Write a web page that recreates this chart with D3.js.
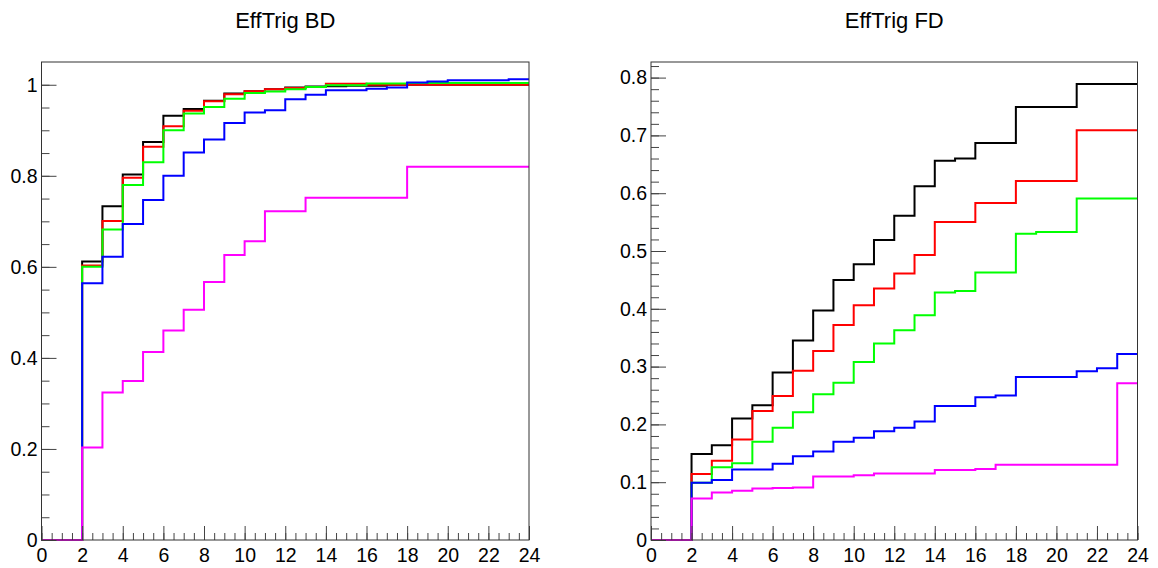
<!DOCTYPE html>
<html>
<head>
<meta charset="utf-8">
<script src="https://cdn.jsdelivr.net/npm/d3@7"></script>
<style>
  body { margin: 0; background: #fff; }
  svg text { font-family: "Liberation Sans", Arial, Helvetica, sans-serif; fill: #000; }
</style>
</head>
<body>
<div id="eff-trig"></div>
<script>
// bin lower edges 0..23, each bin is 1 wide
const binEdges = d3.range(0, 24);

// EffTrig BD
const blackBD   = [0, 0, 0.612, 0.733, 0.803, 0.874, 0.932, 0.947, 0.965, 0.981, 0.986, 0.990, 0.994, 0.996, 0.997, 0.998, 0.998, 1.000, 1.000, 1.000, 1.000, 1.000, 1.000, 1.000];
const redBD     = [0, 0, 0.603, 0.701, 0.796, 0.864, 0.909, 0.943, 0.964, 0.979, 0.986, 0.990, 0.993, 0.995, 1.002, 1.002, 1.000, 1.000, 1.000, 1.000, 1.000, 1.000, 1.000, 1.000];
const greenBD   = [0, 0, 0.600, 0.682, 0.780, 0.830, 0.900, 0.937, 0.951, 0.969, 0.982, 0.985, 0.990, 0.995, 0.999, 0.999, 1.003, 1.003, 1.004, 1.004, 1.004, 1.004, 1.004, 1.004];
const blueBD    = [0, 0, 0.564, 0.622, 0.694, 0.747, 0.800, 0.851, 0.880, 0.916, 0.939, 0.944, 0.968, 0.978, 0.988, 0.988, 0.991, 0.994, 1.005, 1.007, 1.010, 1.010, 1.010, 1.012];
const magentaBD = [0, 0, 0.203, 0.324, 0.349, 0.413, 0.460, 0.506, 0.567, 0.626, 0.656, 0.722, 0.722, 0.752, 0.752, 0.752, 0.752, 0.752, 0.820, 0.820, 0.820, 0.820, 0.820, 0.820];

// EffTrig FD
const blackFD   = [0, 0, 0.149, 0.164, 0.210, 0.233, 0.290, 0.345, 0.397, 0.450, 0.477, 0.519, 0.561, 0.612, 0.656, 0.660, 0.687, 0.687, 0.749, 0.749, 0.749, 0.789, 0.789, 0.789];
const redFD     = [0, 0, 0.114, 0.137, 0.174, 0.223, 0.249, 0.293, 0.327, 0.372, 0.406, 0.435, 0.461, 0.493, 0.550, 0.550, 0.583, 0.583, 0.621, 0.621, 0.621, 0.709, 0.709, 0.709];
const greenFD   = [0, 0, 0.099, 0.126, 0.133, 0.170, 0.194, 0.221, 0.252, 0.272, 0.308, 0.340, 0.363, 0.389, 0.428, 0.431, 0.463, 0.463, 0.530, 0.533, 0.533, 0.591, 0.591, 0.591];
const blueFD    = [0, 0, 0.099, 0.104, 0.122, 0.122, 0.132, 0.145, 0.153, 0.170, 0.177, 0.188, 0.194, 0.205, 0.232, 0.232, 0.247, 0.250, 0.282, 0.282, 0.282, 0.292, 0.297, 0.322];
const magentaFD = [0, 0, 0.072, 0.082, 0.085, 0.089, 0.090, 0.091, 0.110, 0.110, 0.112, 0.115, 0.115, 0.115, 0.121, 0.121, 0.123, 0.130, 0.130, 0.130, 0.130, 0.130, 0.130, 0.271];

const seriesColors = ['#000000', '#ff0000', '#00ff00', '#0000ff', '#ff00ff'];

const xTicks = d3.range(0, 25, 2);
const xMinorTicks = d3.range(0, 24.01, 0.5);
const yTicksBD = [0, 0.2, 0.4, 0.6, 0.8, 1];
const yMinorTicksBD = d3.range(0, 21).map(i => i * 0.05);
const yTicksFD = [0, 0.1, 0.2, 0.3, 0.4, 0.5, 0.6, 0.7, 0.8];
const yMinorTicksFD = d3.range(0, 42).map(i => i * 0.02);

const svg = d3.select('#eff-trig')
  .append('svg')
    .attr('width', 1158)
    .attr('height', 568);

// Draw one pad: frame, axes, step histograms
function drawPad(title, left, right, yMax, yTicks, yMinor, series) {
  const top = 62, bottom = 540;

  let x_scale = d3.scaleLinear().domain([0, 24]).range([left, right]);
  let y_scale = d3.scaleLinear().domain([0, yMax]).range([bottom, top]);

  let pad = svg.append('g');

  // title
  pad.append('text')
    .attr('x', (left + right) / 2)
    .attr('y', 28)
    .attr('text-anchor', 'middle')
    .style('font-size', '22px')
    .text(title);

  // histograms, black first so magenta ends on top
  const line = d3.line()
    .x(d => x_scale(d[0]))
    .y(d => y_scale(d[1]))
    .curve(d3.curveStepAfter);

  series.forEach((values, i) => {
    let pts = binEdges.map((b, j) => [b, values[j]]);
    pts.push([24, values[values.length - 1]]);
    pad.append('path')
      .datum(pts)
      .attr('fill', 'none')
      .attr('stroke', seriesColors[i])
      .attr('stroke-width', 2)
      .attr('d', line);
  });

  // minor ticks
  pad.append('g')
    .attr('transform', 'translate(0,' + bottom + ')')
    .call(d3.axisBottom(x_scale).tickValues(xMinorTicks).tickSize(-7).tickFormat(''))
    .call(g => g.select('.domain').remove());
  pad.append('g')
    .attr('transform', 'translate(' + left + ',0)')
    .call(d3.axisLeft(y_scale).tickValues(yMinor.filter(v => v <= yMax)).tickSize(-8).tickFormat(''))
    .call(g => g.select('.domain').remove());

  // major ticks + labels
  pad.append('g')
    .attr('transform', 'translate(0,' + bottom + ')')
    .call(d3.axisBottom(x_scale).tickValues(xTicks).tickSize(-14).tickPadding(8).tickFormat(d3.format('d')))
    .call(g => g.select('.domain').remove())
    .selectAll('text').style('font-size', '19.5px');
  pad.append('g')
    .attr('transform', 'translate(' + left + ',0)')
    .call(d3.axisLeft(y_scale).tickValues(yTicks).tickSize(-15).tickPadding(4).tickFormat(d => String(+d.toFixed(1))))
    .call(g => g.select('.domain').remove())
    .selectAll('text').style('font-size', '19.5px');

  pad.selectAll('.tick line').attr('stroke', '#444');

  // frame
  pad.append('rect')
    .attr('x', left)
    .attr('y', top)
    .attr('width', right - left)
    .attr('height', bottom - top)
    .attr('fill', 'none')
    .attr('stroke', '#333')
    .attr('stroke-width', 1);
}

drawPad('EffTrig BD', 41.5, 529, 1.05, yTicksBD, yMinorTicksBD,
  [blackBD, redBD, greenBD, blueBD, magentaBD]);
drawPad('EffTrig FD', 651, 1137.5, 0.827, yTicksFD, yMinorTicksFD,
  [blackFD, redFD, greenFD, blueFD, magentaFD]);
</script>
</body>
</html>
